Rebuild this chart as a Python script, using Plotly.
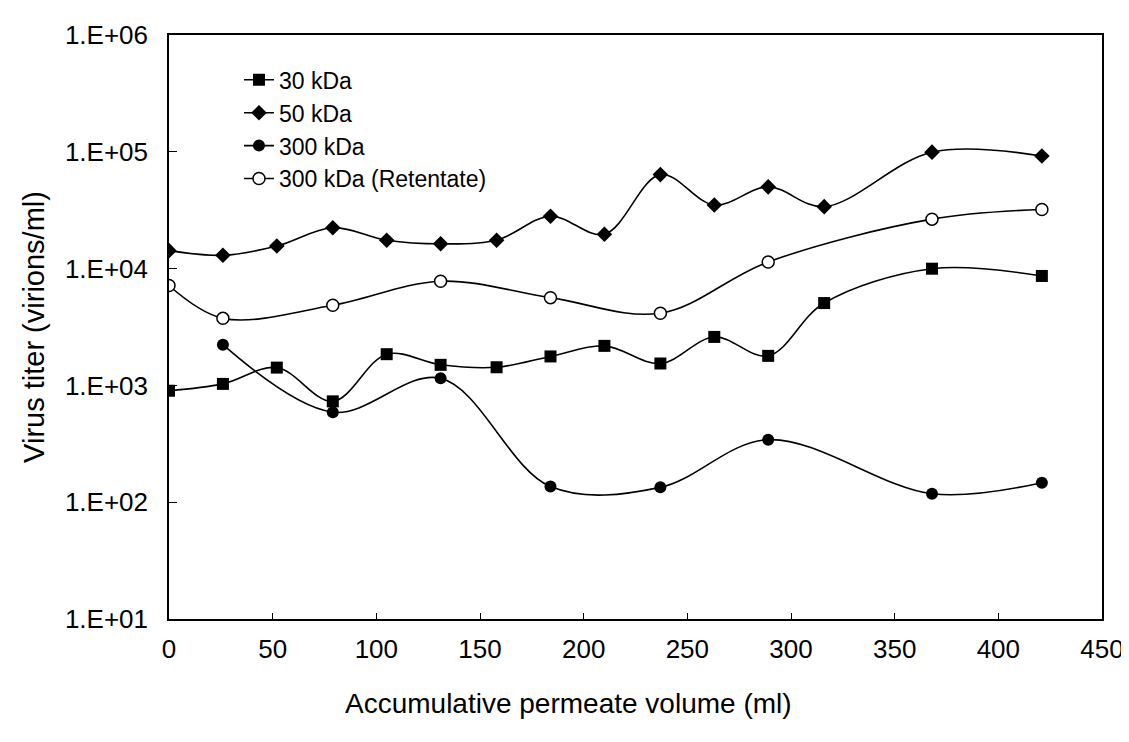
import plotly.graph_objects as go

# Data
x_all = [0, 26, 52, 79, 105, 131, 158, 184, 210, 237, 263, 289, 316, 368, 421]
kda30 = [900, 1030, 1420, 730, 1850, 1500, 1430, 1770, 2180, 1540, 2600, 1790, 5070, 9980, 8650]
kda50 = [14250, 13000, 15600, 22400, 17500, 16300, 17500, 28100, 19700, 63800, 35000, 50100, 33900, 99300, 92000]
x_300 = [26, 79, 131, 184, 237, 289, 368, 421]
kda300 = [2230, 590, 1150, 136, 134, 343, 118, 147]
x_ret = [0, 26, 79, 131, 184, 237, 289, 368, 421]
kda300_ret = [7160, 3750, 4850, 7800, 5640, 4150, 11400, 26500, 32100]

y_tickvals = [1e1, 1e2, 1e3, 1e4, 1e5, 1e6]
y_ticktext = ["1.E+01", "1.E+02", "1.E+03", "1.E+04", "1.E+05", "1.E+06"]
x_tickvals = [0, 50, 100, 150, 200, 250, 300, 350, 400, 450]
x_title = "Accumulative permeate volume (ml)"
y_title = "Virus titer (virions/ml)"

FONT = "Liberation Sans, Arial, sans-serif"
line = dict(color="black", width=1.6, shape="spline", smoothing=1.0)

fig = go.Figure()
fig.add_trace(go.Scatter(x=x_all, y=kda30, name="30 kDa", mode="lines+markers",
                         line=line, marker=dict(symbol="square", size=12, color="black")))
fig.add_trace(go.Scatter(x=x_all, y=kda50, name="50 kDa", mode="lines+markers",
                         line=line, marker=dict(symbol="diamond", size=12, color="black")))
fig.add_trace(go.Scatter(x=x_300, y=kda300, name="300 kDa", mode="lines+markers",
                         line=line, marker=dict(symbol="circle", size=12, color="black")))
fig.add_trace(go.Scatter(x=x_ret, y=kda300_ret, name="300 kDa (Retentate)", mode="lines+markers",
                         line=line, marker=dict(symbol="circle", size=12, color="white",
                                                line=dict(color="black", width=1.5))))

fig.update_layout(
    width=1129, height=742,
    margin=dict(l=161, r=35, t=19, b=131),
    paper_bgcolor="white", plot_bgcolor="white",
    font=dict(family=FONT, size=26, color="black"),
    showlegend=True,
    legend=dict(x=0.075, y=0.96, xanchor="left", yanchor="top",
                bgcolor="rgba(0,0,0,0)", font=dict(size=23), tracegroupgap=0,
                itemwidth=30),
    annotations=[dict(text=x_title, xref="paper", yref="paper", x=0.428, y=0,
                      yshift=-84, xanchor="center", yanchor="middle", showarrow=False,
                      font=dict(size=28))],
)
fig.update_xaxes(
    range=[0, 450], tickvals=x_tickvals, ticks="inside", ticklen=6, tickcolor="black",
    showline=True, linecolor="black", linewidth=1.5, mirror=True, showgrid=False, zeroline=False,
    ticklabelstandoff=6,
)
fig.update_yaxes(
    type="log", range=[1, 6], tickvals=y_tickvals, ticktext=y_ticktext,
    ticks="inside", ticklen=8, tickcolor="black",
    showline=True, linecolor="black", linewidth=1.5, mirror=True, showgrid=False, zeroline=False,
    ticklabelstandoff=14,
    title=dict(text=y_title, standoff=12, font=dict(size=29)),
)

fig.write_html("out.html")
